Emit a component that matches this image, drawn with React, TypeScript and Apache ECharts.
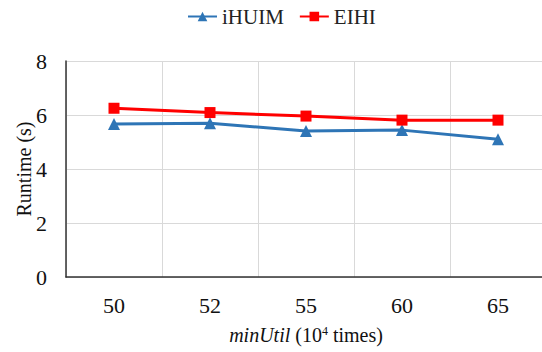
import React, { useEffect, useRef } from "react";
import * as echarts from "echarts";

const categories = ["50", "52", "55", "60", "65"];
const iHUIM = [5.67, 5.69, 5.41, 5.44, 5.1];
const EIHI = [6.25, 6.09, 5.96, 5.81, 5.81];
const yTicks = [0, 2, 4, 6, 8];

const FONT = '"Liberation Serif", "Times New Roman", serif';

export default function App() {
  const ref = useRef<HTMLDivElement>(null);
  useEffect(() => {
    if (!ref.current) return;
    const chart = echarts.init(ref.current, undefined, { renderer: "svg" });
    chart.setOption({
      animation: false,
      textStyle: { fontFamily: FONT },
      legend: {
        top: 6,
        left: 187,
        padding: 0,
        itemWidth: 29,
        itemHeight: 12,
        itemGap: 15,
        textStyle: { fontFamily: FONT, fontSize: 21, color: "#222" },
        data: ["iHUIM", "EIHI"],
      },
      grid: { left: 66, right: -4, top: 61, bottom: 75, outerBoundsMode: "none" },
      xAxis: {
        type: "category",
        data: categories,
        boundaryGap: true,
        axisLine: { lineStyle: { color: "#333", width: 1.5 } },
        axisTick: { show: false },
        axisLabel: { fontFamily: FONT, fontSize: 22, color: "#111", margin: 17 },
        splitLine: { show: true, lineStyle: { color: "#d9d9d9", width: 1 } },
        name: "{i|minUtil} {n|(10}{s|4}{n| times)}",
        nameLocation: "middle",
        nameGap: 48,
        nameTextStyle: {
          fontFamily: FONT,
          fontSize: 20,
          color: "#111",
          rich: {
            i: { fontFamily: FONT, fontSize: 20, fontStyle: "italic", color: "#111" },
            n: { fontFamily: FONT, fontSize: 20, color: "#111" },
            s: { fontFamily: FONT, fontSize: 12, color: "#111", verticalAlign: "top", padding: [0, 0, 8, 0] },
          },
        },
      },
      yAxis: {
        type: "value",
        min: 0,
        max: 8,
        interval: 2,
        axisLine: { show: true, lineStyle: { color: "#333", width: 1.5 } },
        axisTick: { show: false },
        axisLabel: {
          fontFamily: FONT,
          fontSize: 22,
          color: "#111",
          margin: 19,
          formatter: (v: number) => (yTicks.includes(v) ? String(v) : ""),
        },
        splitLine: { show: true, lineStyle: { color: "#d9d9d9", width: 1 } },
        name: "Runtime (s)",
        nameLocation: "middle",
        nameGap: 32,
        nameMoveOverlap: false,
        nameTextStyle: { fontFamily: FONT, fontSize: 20, color: "#111" },
      },
      series: [
        {
          name: "iHUIM",
          type: "line",
          data: iHUIM,
          symbol: "triangle",
          symbolSize: 12,
          lineStyle: { color: "#2E75B6", width: 3 },
          itemStyle: { color: "#2E75B6" },
        },
        {
          name: "EIHI",
          type: "line",
          data: EIHI,
          symbol: "rect",
          symbolSize: 11,
          lineStyle: { color: "#FF0000", width: 3 },
          itemStyle: { color: "#FF0000" },
        },
      ],
    });
    return () => chart.dispose();
  }, []);
  return (
    <div
      ref={ref}
      style={{ position: "absolute", left: 0, top: 0, width: 542, height: 352 }}
    />
  );
}
